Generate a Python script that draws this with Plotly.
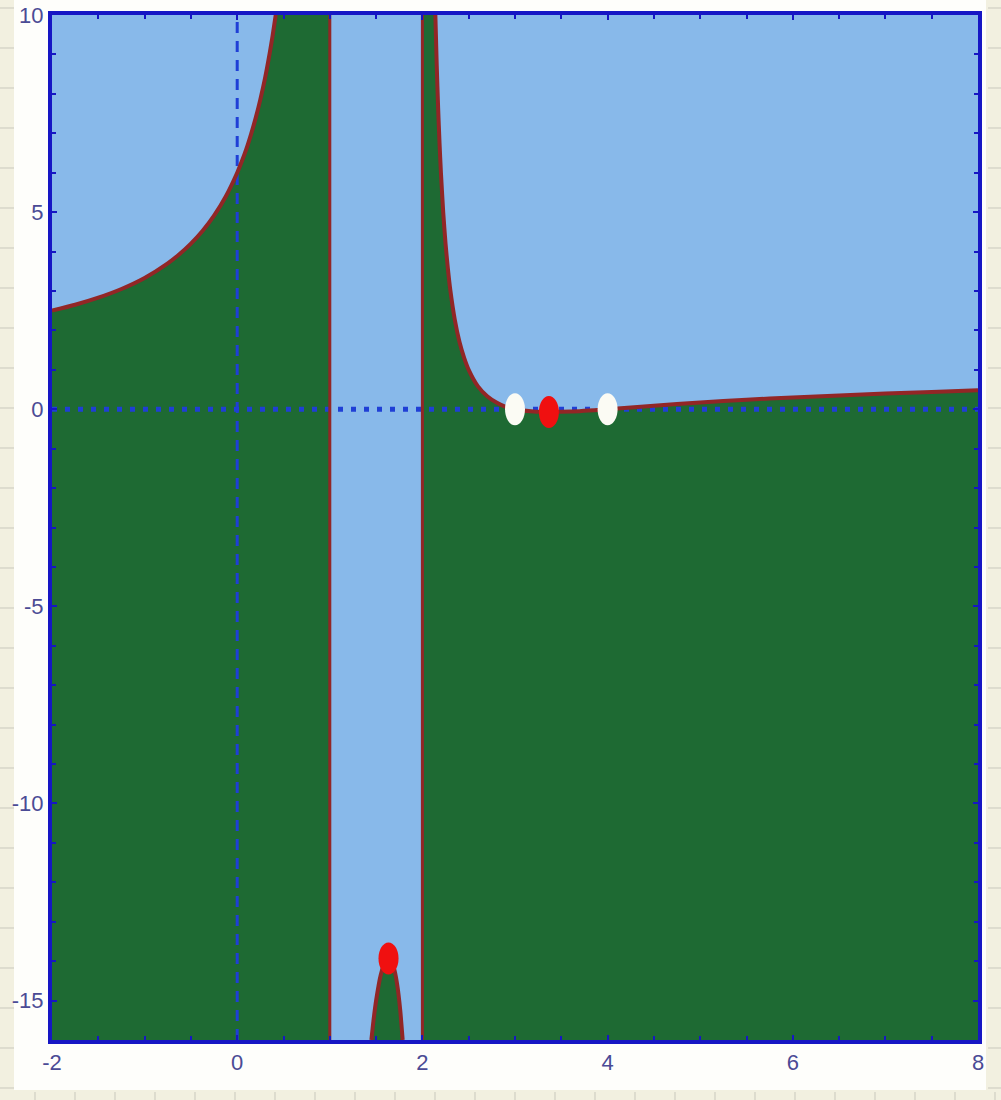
import plotly.graph_objects as go

# Axis windows and ticks
X_RANGE = [-2, 8]
Y_RANGE = [-16, 10]
X_TICKS = [-2, 0, 2, 4, 6, 8]
Y_TICKS = [-15, -10, -5, 0, 5, 10]

# Vertical asymptotes
asym_x = [1, 2]

# Curve, left branch (x < 1), up to where it leaves the window at the top
x_a = [-2, -1.75, -1.5, -1.25, -1, -0.75, -0.625, -0.5, -0.375, -0.25, -0.125,
       0, 0.05, 0.1, 0.15, 0.2, 0.25, 0.3, 0.35, 0.38, 0.416]
y_a = [2.5, 2.65, 2.83, 3.05, 3.33, 3.7, 3.93, 4.2, 4.52, 4.91, 5.39,
       6.0, 6.29, 6.61, 6.98, 7.39, 7.86, 8.39, 9.02, 9.44, 10.0]

# Curve, middle branch (1 < x < 2), the part inside the window
x_b = [1.449, 1.47, 1.5, 1.55, 1.6, 1.634, 1.67, 1.7, 1.73, 1.76, 1.787]
y_b = [-16.0, -15.54, -15.0, -14.35, -14.0, -13.93, -14.02, -14.24, -14.63, -15.23, -16.0]

# Curve, right branch (x > 2)
x_c = [2.14, 2.155, 2.17, 2.185, 2.2, 2.225, 2.25, 2.275, 2.3, 2.35, 2.4, 2.45,
       2.5, 2.6, 2.7, 2.8, 2.9, 3.0, 3.2, 3.366, 3.6, 4.0, 4.5, 5, 5.5, 6,
       6.5, 7, 7.5, 8]
y_c = [10.0, 8.71, 7.64, 6.75, 6.0, 4.99, 4.2, 3.57, 3.05, 2.27, 1.71, 1.31,
       1.0, 0.58, 0.33, 0.17, 0.06, 0.0, -0.06, -0.07, -0.06, 0.0, 0.09, 0.17,
       0.24, 0.3, 0.35, 0.4, 0.44, 0.48]

# Roots and extrema
root_x = [3, 4]
root_y = [0, 0]
ext_x = [3.366, 1.634]
ext_y = [-0.07, -13.93]

SKY = "#88b9ea"
GREEN = "#1e6a33"
CURVE = "#922626"
FRAME = "#1616c4"
AXIS = "#1f3fd6"
TICKFONT = dict(family="Liberation Sans Narrow, Liberation Sans, Arial", size=22, color="#4b4b95")

W, H = 1001, 1100
ML, MR, MT, MB = 52, 23, 15, 60
PW, PH = W - ML - MR, H - MT - MB

ylo, yhi = Y_RANGE
xlo, xhi = X_RANGE

fig = go.Figure()

# Green region under the curve, one polygon per branch
fill_left_x = [xlo] + x_a + [asym_x[0], asym_x[0], xlo]
fill_left_y = [ylo] + y_a + [yhi, ylo, ylo]
fill_mid_x = x_b + [x_b[0]]
fill_mid_y = y_b + [y_b[0]]
fill_right_x = [asym_x[1], asym_x[1]] + x_c + [xhi, asym_x[1]]
fill_right_y = [ylo, yhi] + y_c + [ylo, ylo]

for fx, fy in [(fill_left_x, fill_left_y), (fill_mid_x, fill_mid_y), (fill_right_x, fill_right_y)]:
    fig.add_trace(go.Scatter(x=fx, y=fy, mode="lines", fill="toself",
                             fillcolor=GREEN, line=dict(width=0),
                             hoverinfo="skip", showlegend=False))

# Coordinate axes through the origin
fig.add_trace(go.Scatter(x=[0, 0], y=Y_RANGE, mode="lines",
                         line=dict(color=AXIS, width=3, dash="11px,8px"),
                         hoverinfo="skip", showlegend=False))
fig.add_trace(go.Scatter(x=X_RANGE, y=[0, 0], mode="lines",
                         line=dict(color=AXIS, width=5, dash="5px,8px"),
                         hoverinfo="skip", showlegend=False))

# Asymptotes
for ax in asym_x:
    fig.add_trace(go.Scatter(x=[ax, ax], y=Y_RANGE, mode="lines",
                             line=dict(color=CURVE, width=3),
                             hoverinfo="skip", showlegend=False))

# Curve branches
for cx, cy in [(x_a, y_a), (x_b, y_b), (x_c, y_c)]:
    fig.add_trace(go.Scatter(x=cx, y=cy, mode="lines",
                             line=dict(color=CURVE, width=4, shape="spline", smoothing=0.6),
                             hoverinfo="skip", showlegend=False))

# Point markers drawn as ellipses (taller than wide)
RX_PX, RY_PX = 10, 16
rx = RX_PX * (xhi - xlo) / PW
ry = RY_PX * (yhi - ylo) / PH
shapes = []
for px_, py_ in zip(root_x, root_y):
    shapes.append(dict(type="circle", xref="x", yref="y",
                       x0=px_ - rx, x1=px_ + rx, y0=py_ - ry, y1=py_ + ry,
                       fillcolor="#fbfbf4", line=dict(width=0), layer="above"))
for px_, py_ in zip(ext_x, ext_y):
    shapes.append(dict(type="circle", xref="x", yref="y",
                       x0=px_ - rx, x1=px_ + rx, y0=py_ - ry, y1=py_ + ry,
                       fillcolor="#f01010", line=dict(width=0), layer="above"))

# Graph-paper edges of the page
PAPER = "#f2f0e0"
RULE = "#c9c8bd"

def px_x(p):
    return (p - ML) / PW

def px_y(p):
    return 1 - (p - MT) / PH

shapes.append(dict(type="rect", xref="paper", yref="paper", layer="below",
                   x0=px_x(0), x1=px_x(14), y0=px_y(H), y1=px_y(0),
                   fillcolor=PAPER, line=dict(width=0)))
shapes.append(dict(type="rect", xref="paper", yref="paper", layer="below",
                   x0=px_x(986), x1=px_x(W), y0=px_y(H), y1=px_y(0),
                   fillcolor=PAPER, line=dict(width=0)))
shapes.append(dict(type="rect", xref="paper", yref="paper", layer="below",
                   x0=px_x(0), x1=px_x(W), y0=px_y(H), y1=px_y(1090),
                   fillcolor=PAPER, line=dict(width=0)))
for k in range(28):
    yy = 8 + 40 * k
    if yy > H:
        break
    shapes.append(dict(type="line", xref="paper", yref="paper", layer="below",
                       x0=px_x(0), x1=px_x(14), y0=px_y(yy), y1=px_y(yy),
                       line=dict(color=RULE, width=1)))
    shapes.append(dict(type="line", xref="paper", yref="paper", layer="below",
                       x0=px_x(988), x1=px_x(W), y0=px_y(yy), y1=px_y(yy),
                       line=dict(color=RULE, width=1)))
for k in range(26):
    xx = 35 + 40 * k
    if xx > W:
        break
    shapes.append(dict(type="line", xref="paper", yref="paper", layer="below",
                       x0=px_x(xx), x1=px_x(xx), y0=px_y(1092), y1=px_y(H),
                       line=dict(color=RULE, width=1)))

fig.update_layout(
    width=W, height=H,
    margin=dict(l=ML, r=MR, t=MT, b=MB, autoexpand=False),
    paper_bgcolor="#fefefb",
    plot_bgcolor=SKY,
    shapes=shapes,
    showlegend=False,
)

fig.update_xaxes(
    range=X_RANGE, tickvals=X_TICKS, ticktext=[str(v) for v in X_TICKS],
    showgrid=False, zeroline=False, automargin=False,
    showline=True, linecolor=FRAME, linewidth=4, mirror="ticks",
    ticks="inside", ticklen=5, tickwidth=2, tickcolor=FRAME,
    minor=dict(dtick=0.5, ticks="inside", ticklen=4, tickwidth=2, tickcolor=FRAME),
    tickfont=TICKFONT,
)
fig.update_yaxes(
    range=Y_RANGE, tickvals=Y_TICKS, ticktext=[str(v) for v in Y_TICKS],
    showgrid=False, zeroline=False, automargin=False,
    showline=True, linecolor=FRAME, linewidth=4, mirror="ticks",
    ticks="inside", ticklen=5, tickwidth=2, tickcolor=FRAME,
    minor=dict(dtick=1, ticks="inside", ticklen=4, tickwidth=2, tickcolor=FRAME),
    tickfont=TICKFONT,
)

fig.write_html("out.html")
